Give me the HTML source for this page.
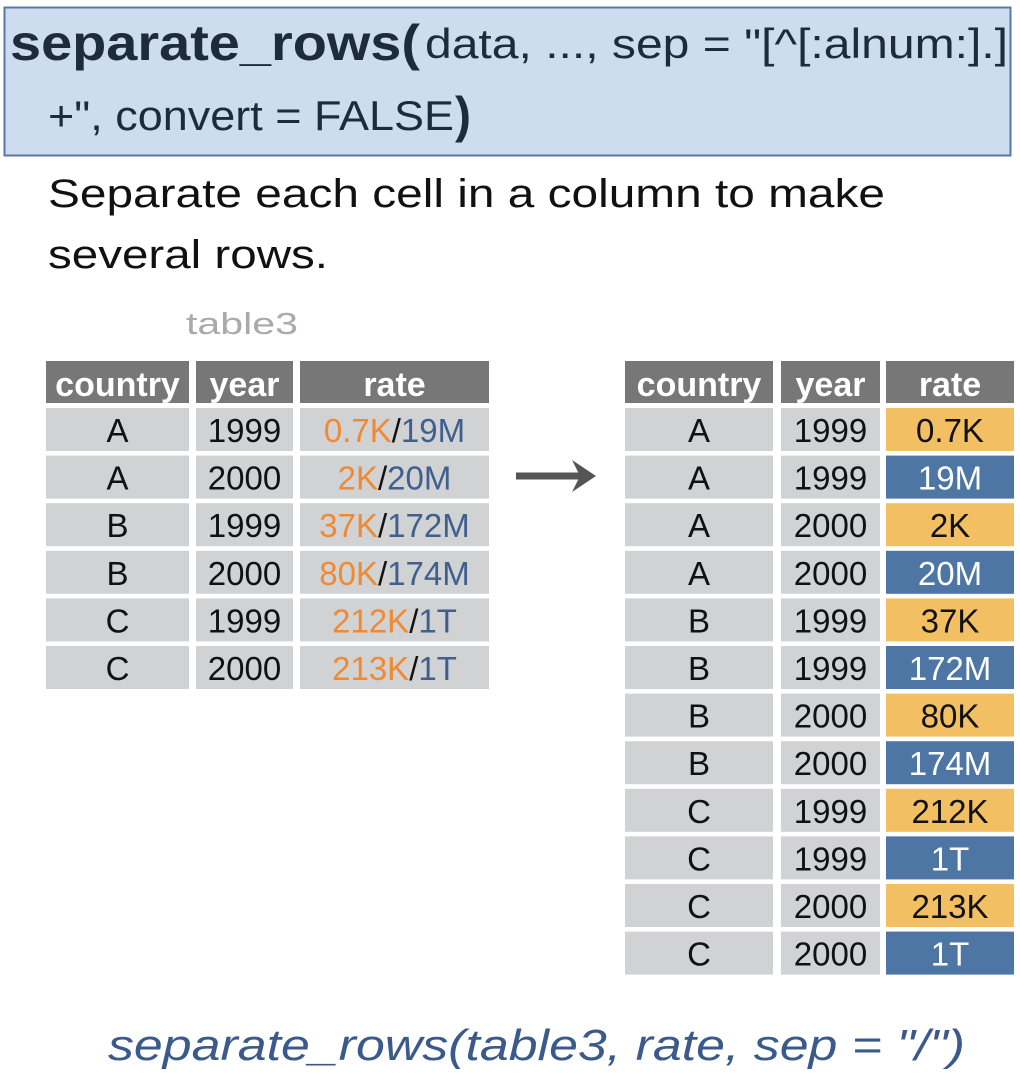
<!DOCTYPE html>
<html><head><meta charset="utf-8"><style>html,body{margin:0;padding:0;background:#fff}svg{display:block}</style></head>
<body>
<svg id="s" width="1020" height="1090" viewBox="0 0 1020 1090" xmlns="http://www.w3.org/2000/svg" font-family="Liberation Sans, sans-serif">
<rect x="4.5" y="7.5" width="1006" height="148" fill="#cddcee" stroke="#5a78a6" stroke-width="2"/>
<text x="10" y="60" font-size="50" font-weight="bold" fill="#1d2b3c" textLength="410" lengthAdjust="spacingAndGlyphs">separate_rows(</text>
<text x="425" y="58" font-size="42" fill="#1d2b3c" textLength="583" lengthAdjust="spacingAndGlyphs">data, ..., sep = "[^[:alnum:].]</text>
<text x="48" y="130" font-size="42" fill="#1d2b3c" textLength="406" lengthAdjust="spacingAndGlyphs">+", convert = FALSE</text>
<text x="455" y="132" font-size="50" font-weight="bold" fill="#1d2b3c" textLength="16" lengthAdjust="spacingAndGlyphs">)</text>
<text x="48" y="207" font-size="40" fill="#111" textLength="837" lengthAdjust="spacingAndGlyphs">Separate each cell in a column to make</text>
<text x="48" y="268" font-size="40" fill="#111" textLength="280" lengthAdjust="spacingAndGlyphs">several rows.</text>
<text x="186" y="334" font-size="31" fill="#aaaaaa" textLength="112" lengthAdjust="spacingAndGlyphs">table3</text>
<g id="left"></g>
<g id="right"></g>
<g>
<line x1="516" y1="476" x2="580" y2="476" stroke="#555" stroke-width="7"/>
<polygon points="572,460 596,476 572,492 580,476" fill="#555"/>
</g>
<text x="108" y="1060" font-size="44" font-style="italic" fill="#3b5a8c" textLength="857" lengthAdjust="spacingAndGlyphs">separate_rows(table3, rate, sep = "/")</text>
</svg>
<script>
const inCountry=["A","A","B","B","C","C"];
const inYear=["1999","2000","1999","2000","1999","2000"];
const inCases=["0.7K","2K","37K","80K","212K","213K"];
const inPop=["19M","20M","172M","174M","1T","1T"];
const outCountry=["A","A","A","A","B","B","B","B","C","C","C","C"];
const outYear=["1999","1999","2000","2000","1999","1999","2000","2000","1999","1999","2000","2000"];
const outRate=["0.7K","19M","2K","20M","37K","172M","80K","174M","212K","1T","213K","1T"];
const headers=["country","year","rate"];
const NS="http://www.w3.org/2000/svg";
function mk(tag,attrs,parent){const e=document.createElementNS(NS,tag);for(const k in attrs)e.setAttribute(k,attrs[k]);parent.appendChild(e);return e;}
function rowY(i){return 408+i*47.6;}
function buildTable(g,cols,n,cellFn){
  cols.forEach((c,j)=>{
    const r=mk('rect',{x:c[0],y:361,width:c[1]-c[0],height:42,fill:'#777777'},g);
    
    
    const t=mk('text',{x:(c[0]+c[1])/2,y:396,'font-size':34,'font-weight':'bold',fill:'#fff','text-anchor':'middle'},g);
    t.textContent=headers[j];
    
    
  });
  for(let i=0;i<n;i++){
    const y=rowY(i);
    cols.forEach((c,j)=>{
      const info=cellFn(i,j);
      const r=mk('rect',{x:c[0],y:y,width:c[1]-c[0],height:43,fill:info.fill},g);
      
      
      const t=mk('text',{x:(c[0]+c[1])/2,y:y+34,'font-size':33,fill:info.color||'#111','text-anchor':'middle'},g);
      
      
      if(info.parts){info.parts.forEach(p=>{const s=mk('tspan',{fill:p[1]},t);s.textContent=p[0];});}
      else t.textContent=info.text;
    });
  }
}
buildTable(document.getElementById('left'),[[46,189],[196,293],[300,489]],inCountry.length,(i,j)=>{
  if(j===0)return{fill:'#d1d2d4',text:inCountry[i]};
  if(j===1)return{fill:'#d1d2d4',text:inYear[i]};
  return{fill:'#d1d2d4',parts:[[inCases[i],'#f08a32'],['/','#111'],[inPop[i],'#3f5f8f']]};
});
buildTable(document.getElementById('right'),[[625,773],[781,880],[886,1014]],outCountry.length,(i,j)=>{
  if(j===0)return{fill:'#d1d2d4',text:outCountry[i]};
  if(j===1)return{fill:'#d1d2d4',text:outYear[i]};
  return i%2===0?{fill:'#f2c062',text:outRate[i],color:'#111'}:{fill:'#4e76a4',text:outRate[i],color:'#fff'};
});
</script>
</body></html>
